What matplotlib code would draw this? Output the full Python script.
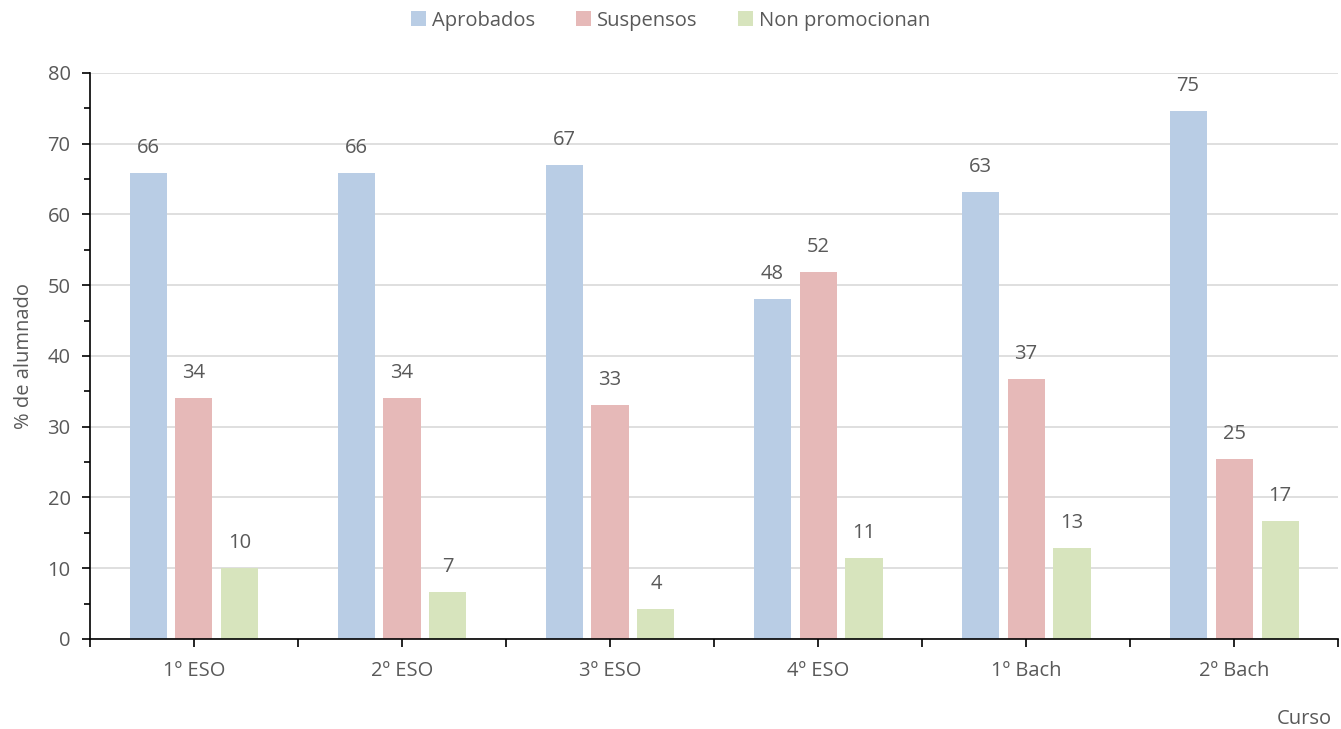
import matplotlib
matplotlib.use('Agg')
import matplotlib.pyplot as plt
import numpy as np
from matplotlib.ticker import MultipleLocator, FixedLocator

plt.rcParams['font.family'] = ['Open Sans', 'DejaVu Sans']

cursos = ['1º ESO', '2º ESO', '3º ESO', '4º ESO', '1º Bach', '2º Bach']
aprobados = [65.9, 65.9, 67.0, 48.1, 63.2, 74.6]
suspensos = [34.1, 34.1, 33.0, 51.9, 36.8, 25.4]
non_promocionan = [10.0, 6.6, 4.3, 11.4, 12.8, 16.7]

series = [
    ('Aprobados', aprobados, '#B9CDE5'),
    ('Suspensos', suspensos, '#E6B9B8'),
    ('Non promocionan', non_promocionan, '#D7E4BD'),
]

TEXT = '#595959'
FS = 14.5

fig = plt.figure(figsize=(13.41, 7.29), dpi=100)
ax = fig.add_axes([0.0671, 0.1235, 0.9307, 0.7764])

x = np.arange(len(cursos))
width = 0.178
step = 0.221
for i, (name, vals, color) in enumerate(series):
    pos = x + (i - 1) * step
    bars = ax.bar(pos, vals, width=width, color=color, label=name, zorder=2)
    for b, v in zip(bars, vals):
        ax.annotate('%.0f' % v, (b.get_x() + b.get_width() / 2, v),
                    xytext=(0, 18), textcoords='offset points',
                    ha='center', va='center', fontsize=FS, color=TEXT)

ax.set_xlim(-0.5, len(cursos) - 0.5)
ax.set_ylim(0, 80)
ax.yaxis.set_major_locator(MultipleLocator(10))
ax.yaxis.set_minor_locator(MultipleLocator(5))
ax.xaxis.set_major_locator(FixedLocator(x))
ax.xaxis.set_minor_locator(FixedLocator(np.arange(-0.5, len(cursos), 1.0)))
ax.set_xticklabels(cursos)

ax.grid(axis='y', which='major', color='#D9D9D9', linewidth=1.2, zorder=0)
ax.set_axisbelow(True)
for s in ['top', 'right']:
    ax.spines[s].set_visible(False)
for s in ['left', 'bottom']:
    ax.spines[s].set_color('black')
    ax.spines[s].set_linewidth(1.2)

ax.tick_params(axis='y', which='major', length=6, width=1.2, colors='black',
               labelcolor=TEXT, labelsize=FS, pad=8)
ax.tick_params(axis='y', which='minor', length=4, width=1.2, colors='black')
ax.tick_params(axis='x', which='both', length=6, width=1.2, colors='black',
               labelcolor=TEXT, labelsize=FS, pad=10)

ax.set_ylabel('% de alumnado', fontsize=FS, color=TEXT, labelpad=10)
fig.text(0.993, 0.0, 'Curso', ha='right', va='bottom', fontsize=FS, color=TEXT)

fig.legend(loc='upper center', bbox_to_anchor=(0.5, 1.01), ncol=3, frameon=False,
           fontsize=FS, labelcolor=TEXT, handlelength=0.75, handleheight=0.75,
           handletextpad=0.3, columnspacing=2.0)

fig.savefig('out.png', dpi=100)
